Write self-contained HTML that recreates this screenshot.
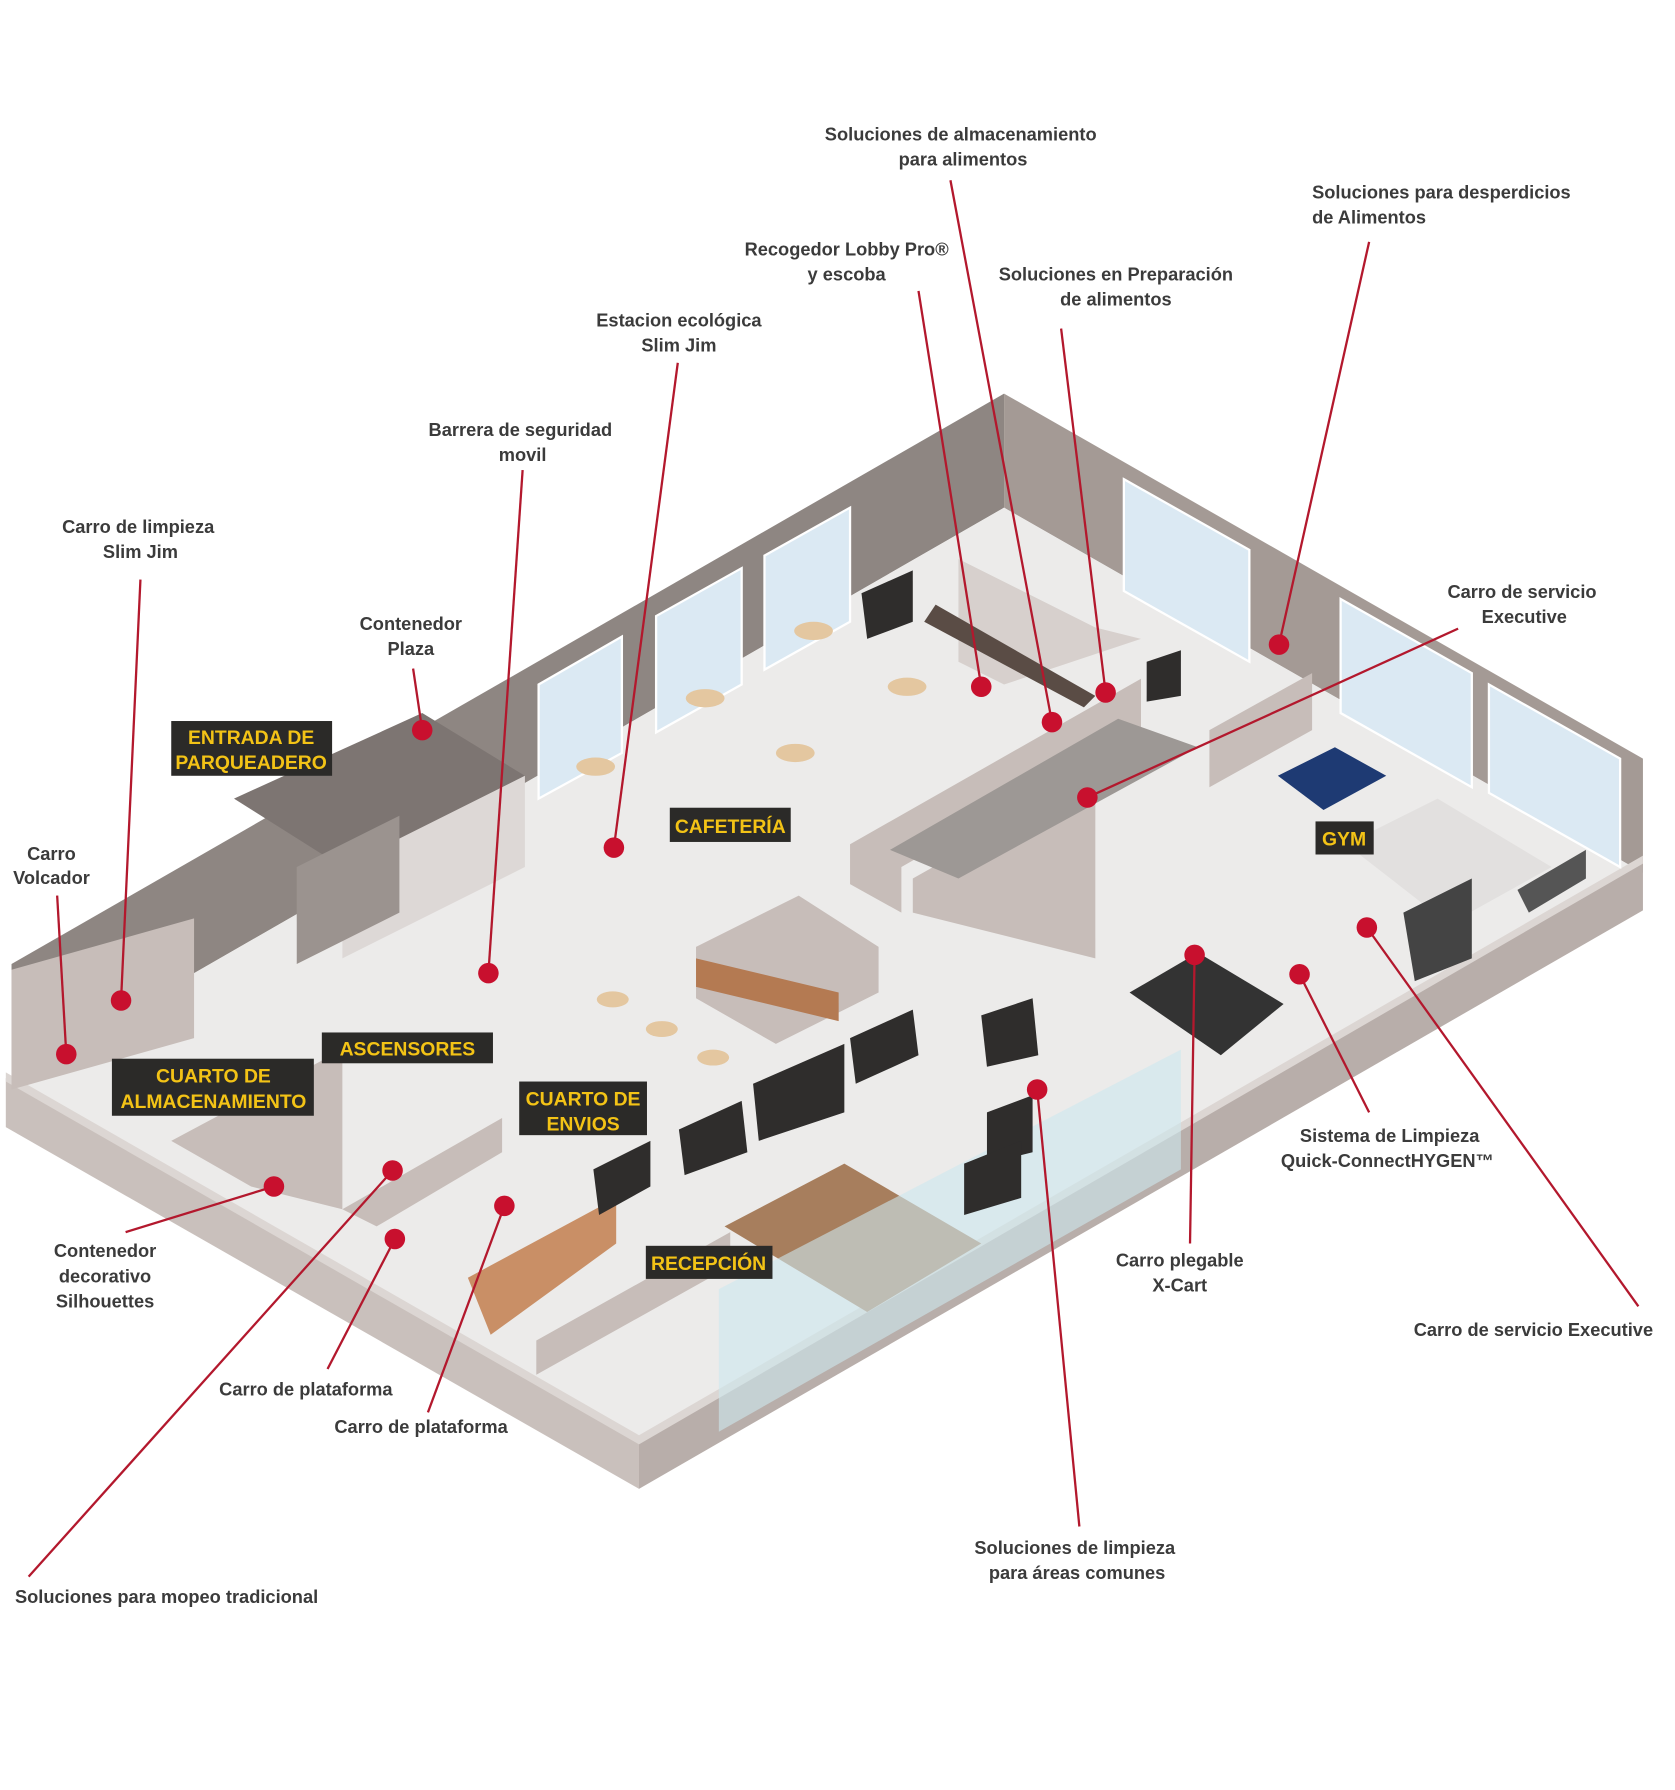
<!DOCTYPE html>
<html><head><meta charset="utf-8">
<style>
html,body{margin:0;padding:0;background:#fff;}
svg{display:block;}
.t{font-family:"Liberation Sans",sans-serif;font-weight:bold;font-size:16px;fill:#3b3b3b;}
.lb{font-family:"Liberation Sans",sans-serif;font-weight:bold;font-size:17px;fill:#f3c316;}
.ln{stroke:#b3182d;stroke-width:2;fill:none;}
.dt{fill:#c8102e;}
</style></head>
<body>
<svg width="1675" height="1790" viewBox="0 0 1468 1569" xmlns="http://www.w3.org/2000/svg">
<!-- back walls -->
<polygon points="10,845 880,345 880,445 10,945" fill="#8e8682"/>
<polygon points="880,345 1440,665 1440,765 880,445" fill="#a49a95"/>
<!-- floor -->
<polygon points="10,945 880,445 1440,765 560,1265" fill="#ecebea"/>
<!-- front walls -->
<polygon points="5,945 560,1262 560,1305 5,988" fill="#c9c0bc"/>
<polygon points="560,1262 1440,755 1440,798 560,1305" fill="#b8aeaa"/>
<polygon points="5,940 560,1258 1440,750 1440,757 560,1266 5,948" fill="#dcd6d3"/>
<!-- windows back left -->
<g fill="#dbe9f3" stroke="#fff" stroke-width="2">
<polygon points="472,600 545,558 545,660 472,700"/>
<polygon points="575,540 650,498 650,600 575,642"/>
<polygon points="670,487 745,445 745,545 670,587"/>
<polygon points="985,420 1095,482 1095,580 985,518"/>
<polygon points="1175,525 1290,590 1290,690 1175,625"/>
<polygon points="1305,600 1420,665 1420,760 1305,695"/>
</g>
<!-- parking stair area -->
<polygon points="205,700 370,625 460,680 300,760" fill="#7d7572"/>
<polygon points="300,760 460,680 460,760 300,840" fill="#ddd8d6"/>
<polygon points="260,760 350,715 350,800 260,845" fill="#9b938f"/>
<!-- interior walls -->
<g fill="#c7bdb9">
<polygon points="10,850 170,805 170,910 10,955"/>
<polygon points="745,740 1000,595 1000,640 790,760 790,800 745,775"/>
<polygon points="800,770 960,680 960,840 800,800"/>
<polygon points="300,1060 440,980 440,1010 330,1075"/>
<polygon points="470,1175 640,1080 640,1110 470,1205"/>
<polygon points="610,830 700,785 770,830 770,870 680,915 610,875"/>
<polygon points="1060,640 1150,590 1150,640 1060,690"/>
<polygon points="150,1000 300,920 300,1060 220,1040"/>
</g>
<!-- reception counter -->
<polygon points="410,1120 540,1050 540,1090 430,1170" fill="#c98f66"/>
<polygon points="610,840 735,870 735,895 610,865" fill="#b47a52"/>
<!-- kitchen -->
<polygon points="840,490 960,550 1000,560 880,600 840,580" fill="#d7d0cd"/>
<polygon points="780,745 980,630 1050,655 840,770" fill="#9d9895"/>
<polygon points="820,530 960,610 950,620 810,545" fill="#5a4c45"/>
<!-- gym mat and machines -->
<polygon points="1120,680 1170,655 1215,680 1160,710" fill="#1e3a73"/>
<polygon points="990,870 1050,835 1125,880 1070,925" fill="#333"/>
<polygon points="1180,740 1260,700 1360,760 1270,810" fill="#e2e0df"/>
<polygon points="1230,800 1290,770 1290,840 1240,860" fill="#444"/>
<polygon points="1330,780 1390,745 1390,770 1340,800" fill="#555"/>
<!-- reception rug / glass -->
<polygon points="635,1075 740,1020 860,1090 760,1150" fill="#a77e5d"/>
<polygon points="630,1130 1035,920 1035,1025 630,1255" fill="#cde7ef" opacity="0.6"/>
<!-- sofas / tables -->
<g fill="#2f2d2c">
<polygon points="745,910 800,885 805,925 750,950"/>
<polygon points="660,950 740,915 740,975 665,1000"/>
<polygon points="595,990 650,965 655,1010 600,1030"/>
<polygon points="865,975 905,960 905,1010 865,1020"/>
<polygon points="845,1020 895,1000 895,1050 845,1065"/>
<polygon points="860,890 905,875 910,925 865,935"/>
<polygon points="520,1025 570,1000 570,1040 525,1065"/>
<polygon points="755,520 800,500 800,545 760,560"/>
<polygon points="1005,580 1035,570 1035,610 1005,615"/>
</g>
<g fill="#e4c7a0">
<ellipse cx="618" cy="612" rx="17" ry="8"/><ellipse cx="697" cy="660" rx="17" ry="8"/>
<ellipse cx="713" cy="553" rx="17" ry="8"/><ellipse cx="795" cy="602" rx="17" ry="8"/>
<ellipse cx="522" cy="672" rx="17" ry="8"/><ellipse cx="537" cy="876" rx="14" ry="7"/>
<ellipse cx="580" cy="902" rx="14" ry="7"/><ellipse cx="625" cy="927" rx="14" ry="7"/>
</g>
<!-- labels boxes -->
<g>
<rect x="150" y="632" width="141" height="48" fill="#2b2a28"/>
<text class="lb" x="220" y="652" text-anchor="middle">ENTRADA DE</text>
<text class="lb" x="220" y="674" text-anchor="middle">PARQUEADERO</text>
<rect x="282" y="905" width="150" height="27" fill="#2b2a28"/>
<text class="lb" x="357" y="925" text-anchor="middle">ASCENSORES</text>
<rect x="98" y="928" width="177" height="50" fill="#2b2a28"/>
<text class="lb" x="187" y="949" text-anchor="middle">CUARTO DE</text>
<text class="lb" x="187" y="971" text-anchor="middle">ALMACENAMIENTO</text>
<rect x="455" y="948" width="112" height="47" fill="#2b2a28"/>
<text class="lb" x="511" y="969" text-anchor="middle">CUARTO DE</text>
<text class="lb" x="511" y="991" text-anchor="middle">ENVIOS</text>
<rect x="587" y="708" width="106" height="30" fill="#2b2a28"/>
<text class="lb" x="640" y="730" text-anchor="middle">CAFETERÍA</text>
<rect x="566" y="1092" width="111" height="29" fill="#2b2a28"/>
<text class="lb" x="621" y="1113" text-anchor="middle">RECEPCIÓN</text>
<rect x="1153" y="720" width="51" height="29" fill="#2b2a28"/>
<text class="lb" x="1178" y="741" text-anchor="middle">GYM</text>
</g>
<!-- leader lines -->
<g class="ln">
<line x1="833" y1="158" x2="922" y2="633"/>
<line x1="1200" y1="212" x2="1121" y2="565"/>
<line x1="805" y1="255" x2="860" y2="602"/>
<line x1="930" y1="288" x2="969" y2="607"/>
<line x1="594" y1="318" x2="538" y2="743"/>
<line x1="458" y1="412" x2="428" y2="853"/>
<line x1="123" y1="508" x2="106" y2="877"/>
<line x1="362" y1="586" x2="370" y2="640"/>
<line x1="50" y1="785" x2="58" y2="924"/>
<line x1="1278" y1="551" x2="953" y2="699"/>
<line x1="110" y1="1080" x2="240" y2="1040"/>
<line x1="287" y1="1200" x2="346" y2="1086"/>
<line x1="375" y1="1238" x2="442" y2="1057"/>
<line x1="25" y1="1382" x2="344" y2="1026"/>
<line x1="946" y1="1338" x2="909" y2="955"/>
<line x1="1043" y1="1090" x2="1047" y2="837"/>
<line x1="1200" y1="975" x2="1139" y2="854"/>
<line x1="1436" y1="1145" x2="1198" y2="813"/>
</g>
<g class="dt">
<circle cx="922" cy="633" r="9"/><circle cx="1121" cy="565" r="9"/><circle cx="860" cy="602" r="9"/>
<circle cx="969" cy="607" r="9"/><circle cx="538" cy="743" r="9"/><circle cx="428" cy="853" r="9"/>
<circle cx="106" cy="877" r="9"/><circle cx="370" cy="640" r="9"/><circle cx="58" cy="924" r="9"/>
<circle cx="953" cy="699" r="9"/><circle cx="240" cy="1040" r="9"/><circle cx="346" cy="1086" r="9"/>
<circle cx="442" cy="1057" r="9"/><circle cx="344" cy="1026" r="9"/><circle cx="909" cy="955" r="9"/>
<circle cx="1047" cy="837" r="9"/><circle cx="1139" cy="854" r="9"/><circle cx="1198" cy="813" r="9"/>
</g>
<!-- text labels -->
<g class="t" text-anchor="middle">
<text x="842" y="123">Soluciones de almacenamiento</text><text x="844" y="145">para alimentos</text>
<text x="742" y="224">Recogedor Lobby Pro®</text><text x="742" y="246">y escoba</text>
<text x="978" y="246">Soluciones en Preparación</text><text x="978" y="268">de alimentos</text>
<text x="595" y="286">Estacion ecológica</text><text x="595" y="308">Slim Jim</text>
<text x="456" y="382">Barrera de seguridad</text><text x="458" y="404">movil</text>
<text x="121" y="467">Carro de limpieza</text><text x="123" y="489">Slim Jim</text>
<text x="360" y="552">Contenedor</text><text x="360" y="574">Plaza</text>
<text x="45" y="754">Carro</text><text x="45" y="775">Volcador</text>
<text x="1334" y="524">Carro de servicio</text><text x="1336" y="546">Executive</text>
<text x="92" y="1102">Contenedor</text><text x="92" y="1124">decorativo</text><text x="92" y="1146">Silhouettes</text>
<text x="268" y="1223">Carro de plataforma</text>
<text x="369" y="1256">Carro de plataforma</text>
<text x="942" y="1362">Soluciones de limpieza</text><text x="944" y="1384">para áreas comunes</text>
<text x="1034" y="1110">Carro plegable</text><text x="1034" y="1132">X-Cart</text>
<text x="1218" y="1001">Sistema de Limpieza</text><text x="1216" y="1023">Quick-ConnectHYGEN™</text>
<text x="1344" y="1171">Carro de servicio Executive</text>
</g>
<g class="t">
<text x="1150" y="174">Soluciones para desperdicios</text><text x="1150" y="196">de Alimentos</text>
<text x="13" y="1405">Soluciones para mopeo tradicional</text>
</g>
</svg>
</body></html>
